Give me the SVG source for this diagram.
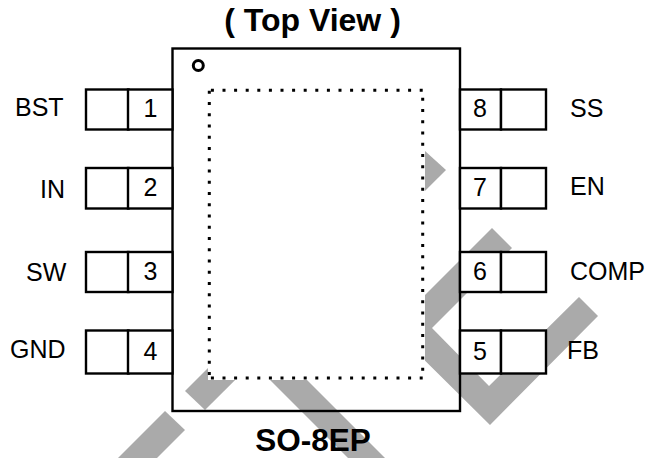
<svg xmlns="http://www.w3.org/2000/svg" width="657" height="458" viewBox="0 0 657 458">
<style>
text{font-family:"Liberation Sans",Arial,sans-serif;fill:#000}
.l{font-size:25px}
.n{font-size:25px;text-anchor:middle}
.t{font-size:32px;font-weight:bold;text-anchor:middle}
.p{fill:#fff;stroke:#000;stroke-width:2.4}
.w{fill:#aaa}
.d{fill:none;stroke:#000;stroke-width:3}
.h{stroke-dasharray:3 8.6}
.v{stroke-dasharray:3 8.25}
</style>
<rect width="657" height="458" fill="#fff"/>
<g id="watermark">
<polygon class="w" points="165,411 185,430 130,485 110,466"/>
<polygon class="w" points="185,391 205,410 446,170 425,151"/>
<polygon class="w" points="492,228 512,248 432,328 489,386 579,297 598,316 490,425 392,328"/>
<polygon class="w" points="270,380 307,380 385,458 348,458"/>
</g>
<g id="connectors"/>
<g id="package">
<rect x="172.500" y="48.500" width="287.500" height="362.500" fill="none" stroke="#000" stroke-width="2.400"/>
<circle cx="198.300" cy="65.500" r="5" fill="none" stroke="#000" stroke-width="3"/>
<rect x="208" y="89" width="217" height="291" fill="#fff"/>
<path class="d h" d="M210.900 90.300H423"/>
<path class="d h" d="M210.900 378H423"/>
<path class="d v" d="M209.300 90.800V375"/>
<path class="d v" d="M422.700 97.800V375"/>
</g>
<g id="pin1"><rect class="p" x="86" y="89.500" width="42.500" height="40"/><rect class="p" x="128" y="89.500" width="44.500" height="40"/><text class="n" x="150.500" y="117">1</text><text class="l" x="15" y="116">BST</text></g>
<g id="pin2"><rect class="p" x="86" y="168" width="42.500" height="40.500"/><rect class="p" x="128" y="168" width="44.500" height="40.500"/><text class="n" x="150.500" y="196">2</text><text class="l" x="40" y="198">IN</text></g>
<g id="pin3"><rect class="p" x="86" y="252" width="42.500" height="40"/><rect class="p" x="128" y="252" width="44.500" height="40"/><text class="n" x="150.500" y="280">3</text><text class="l" x="26" y="280.500">SW</text></g>
<g id="pin4"><rect class="p" x="86" y="330.500" width="42.500" height="43"/><rect class="p" x="128" y="330.500" width="44.500" height="43"/><text class="n" x="150.500" y="360">4</text><text class="l" x="10" y="358">GND</text></g>
<g id="pin8"><rect class="p" x="460" y="89.500" width="41" height="40"/><rect class="p" x="501" y="89.500" width="45" height="40"/><text class="n" x="480" y="117">8</text><text class="l" x="570" y="116.500">SS</text></g>
<g id="pin7"><rect class="p" x="460" y="168" width="41" height="40.500"/><rect class="p" x="501" y="168" width="45" height="40.500"/><text class="n" x="480" y="196">7</text><text class="l" x="570" y="195">EN</text></g>
<g id="pin6"><rect class="p" x="460" y="252" width="41" height="40"/><rect class="p" x="501" y="252" width="45" height="40"/><text class="n" x="480" y="280">6</text><text class="l" x="570" y="280">COMP</text></g>
<g id="pin5"><rect class="p" x="460" y="330.500" width="41" height="43"/><rect class="p" x="501" y="330.500" width="45" height="43"/><text class="n" x="480" y="360">5</text><text class="l" x="567" y="359">FB</text></g>
<text class="t" x="312.500" y="31">( Top View )</text>
<text class="t" x="313" y="451" style="font-size:31.500px">SO-8EP</text>
</svg>
